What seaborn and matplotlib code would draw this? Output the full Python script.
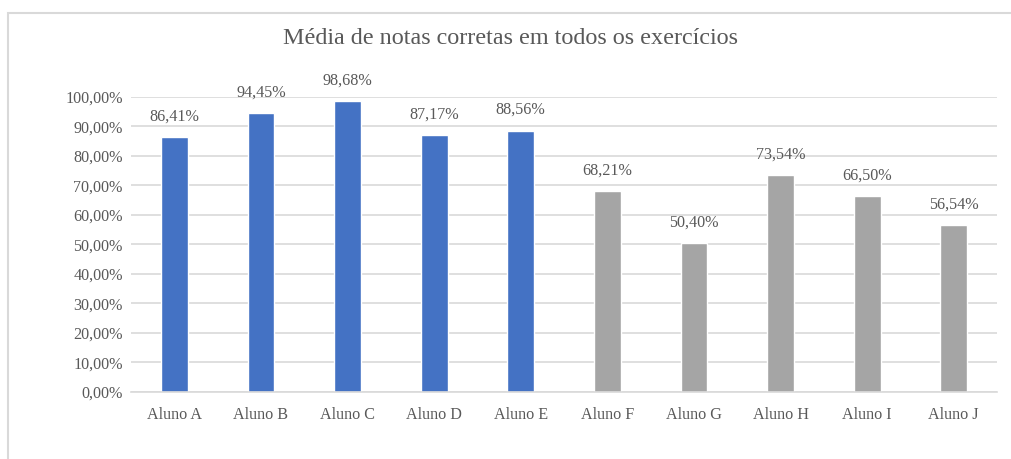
import pandas as pd
import matplotlib
matplotlib.use('Agg')
import matplotlib.pyplot as plt
from matplotlib.patches import Rectangle
from matplotlib.ticker import FuncFormatter
import seaborn as sns

# dados do gráfico
alunos = ["Aluno A", "Aluno B", "Aluno C", "Aluno D", "Aluno E",
          "Aluno F", "Aluno G", "Aluno H", "Aluno I", "Aluno J"]
medias = [0.8641, 0.9445, 0.9868, 0.8717, 0.8856,
          0.6821, 0.5040, 0.7354, 0.6650, 0.5654]
grupos = ["azul"] * 5 + ["cinza"] * 5
cores = {"azul": "#4472C4", "cinza": "#A5A5A5"}

df = pd.DataFrame({"aluno": alunos, "media": medias, "grupo": grupos})

sns.set_style("white")
plt.rcParams['font.family'] = ['Liberation Serif', 'DejaVu Serif']
texto = "#595959"

fig = plt.figure(figsize=(10.11, 4.59), dpi=100)
ax = fig.add_axes([0.1296, 0.146, 0.8566, 0.643])

sns.barplot(data=df, x="aluno", y="media", hue="grupo", palette=cores,
            width=0.31, dodge=False, legend=False, saturation=1, ax=ax)

ax.set_ylim(0, 1)
ax.set_yticks([i / 10 for i in range(11)])
ax.yaxis.set_major_formatter(FuncFormatter(lambda v, p: f"{v*100:.2f}%".replace(".", ",")))
ax.grid(axis="y", color="#D9D9D9", linewidth=1.2)
ax.set_axisbelow(True)
for s in ["top", "right", "left"]:
    ax.spines[s].set_visible(False)
ax.spines["bottom"].set_color("#D9D9D9")
ax.spines["bottom"].set_linewidth(1.2)
ax.tick_params(axis="both", length=0, labelsize=11.6, labelcolor=texto)
ax.tick_params(axis="x", pad=11)
ax.tick_params(axis="y", pad=6)
ax.set_xlabel("")
ax.set_ylabel("")

# rótulos de dados
for i, v in enumerate(medias):
    ax.annotate(f"{v*100:.2f}%".replace(".", ","), (i, v), xytext=(0, 9),
                textcoords="offset points", ha="center", va="bottom",
                fontsize=11.6, color=texto, annotation_clip=False)

fig.text(0.505, 0.917, "Média de notas corretas em todos os exercícios",
         ha="center", va="center", fontsize=17.4, color=texto)

# borda do gráfico
fig.patches.append(Rectangle((8 / 1011, -0.1), 1.1, 1 - 13 / 459 + 0.1,
                             transform=fig.transFigure, fill=False,
                             edgecolor="#D9D9D9", linewidth=1.5))

plt.savefig("out.png", dpi=100)
plt.close()
